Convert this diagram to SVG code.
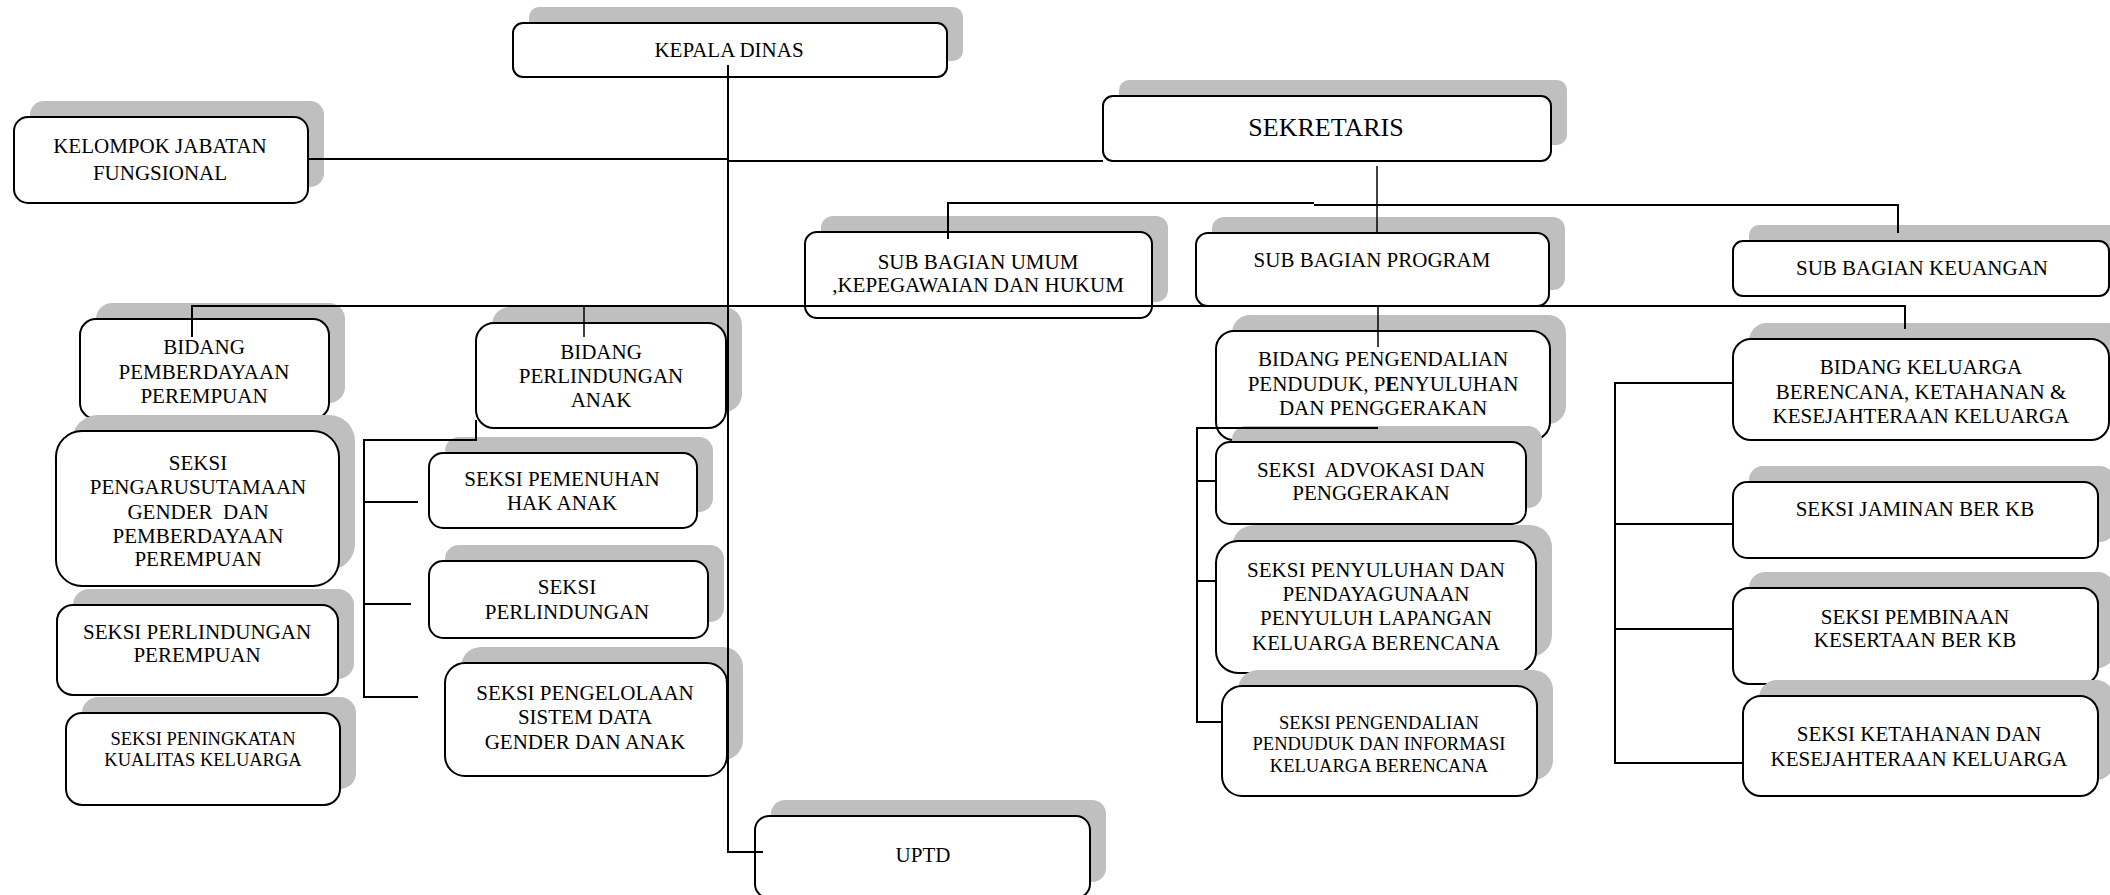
<svg xmlns="http://www.w3.org/2000/svg" width="2110" height="895" viewBox="0 0 2110 895">
<style>
.sh{fill:#bfbfbf}
.bx{fill:#fff;stroke:#000;stroke-width:2}
text{font-family:"Liberation Serif","Times New Roman",serif;font-size:21px;fill:#000;text-anchor:middle}
.sm{font-size:18.5px}
.lg{font-size:26px}
.cn{fill:none;stroke:#000;stroke-width:2}
.thin{stroke-width:1.5}
</style>
<rect width="2110" height="895" fill="#fff"/>
<g id="kepala-dinas"><rect class="sh" x="529" y="7" width="434" height="54" rx="10"/><rect class="bx" x="513" y="23" width="434" height="54" rx="10"/><text x="729" y="57">KEPALA DINAS</text></g>
<g id="kelompok-jabatan"><rect class="sh" x="30" y="101" width="294" height="86" rx="14"/><rect class="bx" x="14" y="117" width="294" height="86" rx="14"/><text x="160" y="153">KELOMPOK JABATAN</text><text x="160" y="180">FUNGSIONAL</text></g>
<g id="sekretaris"><rect class="sh" x="1119" y="80" width="448" height="65" rx="10"/><rect class="bx" x="1103" y="96" width="448" height="65" rx="10"/><text class="lg" x="1326" y="136">SEKRETARIS</text></g>
<g id="sub-umum"><rect class="sh" x="821" y="216" width="347" height="86" rx="12"/><rect class="bx" x="805" y="232" width="347" height="86" rx="12"/><text x="978" y="269">SUB BAGIAN UMUM</text><text x="978" y="292">,KEPEGAWAIAN DAN HUKUM</text></g>
<g id="sub-program"><rect class="sh" x="1212" y="217" width="353" height="73" rx="12"/><rect class="bx" x="1196" y="233" width="353" height="73" rx="12"/><text x="1372" y="267">SUB BAGIAN PROGRAM</text></g>
<g id="sub-keuangan"><rect class="sh" x="1749" y="225" width="376" height="55" rx="10"/><rect class="bx" x="1733" y="241" width="376" height="55" rx="10"/><text x="1922" y="275">SUB BAGIAN KEUANGAN</text></g>
<g id="bidang-pemberdayaan"><rect class="sh" x="96" y="303" width="249" height="100" rx="16"/><rect class="bx" x="80" y="319" width="249" height="100" rx="16"/><text x="204" y="354">BIDANG</text><text x="204" y="379">PEMBERDAYAAN</text><text x="204" y="403">PEREMPUAN</text></g>
<g id="seksi-pengarusutamaan"><rect class="sh" x="72" y="415" width="283" height="155" rx="26"/><rect class="bx" x="56" y="431" width="283" height="155" rx="26"/><text xml:space="preserve" x="198" y="470">SEKSI</text><text x="198" y="494">PENGARUSUTAMAAN</text><text xml:space="preserve" x="198" y="519">GENDER  DAN</text><text x="198" y="543">PEMBERDAYAAN</text><text x="198" y="566">PEREMPUAN</text></g>
<g id="seksi-perlindungan-perempuan"><rect class="sh" x="73" y="589" width="281" height="90" rx="16"/><rect class="bx" x="57" y="605" width="281" height="90" rx="16"/><text x="197" y="639">SEKSI PERLINDUNGAN</text><text x="197" y="662">PEREMPUAN</text></g>
<g id="seksi-peningkatan"><rect class="sh" x="82" y="697" width="274" height="92" rx="16"/><rect class="bx" x="66" y="713" width="274" height="92" rx="16"/><text class="sm" x="203" y="745">SEKSI PENINGKATAN</text><text class="sm" x="203" y="766">KUALITAS KELUARGA</text></g>
<g id="bidang-perlindungan-anak"><rect class="sh" x="492" y="307" width="250" height="105" rx="18"/><rect class="bx" x="476" y="323" width="250" height="105" rx="18"/><text x="601" y="359">BIDANG</text><text x="601" y="383">PERLINDUNGAN</text><text x="601" y="407">ANAK</text></g>
<g id="seksi-pemenuhan"><rect class="sh" x="445" y="437" width="268" height="75" rx="14"/><rect class="bx" x="429" y="453" width="268" height="75" rx="14"/><text x="562" y="486">SEKSI PEMENUHAN</text><text x="562" y="510">HAK ANAK</text></g>
<g id="seksi-perlindungan"><rect class="sh" x="445" y="545" width="279" height="77" rx="14"/><rect class="bx" x="429" y="561" width="279" height="77" rx="14"/><text x="567" y="594">SEKSI</text><text x="567" y="619">PERLINDUNGAN</text></g>
<g id="seksi-pengelolaan"><rect class="sh" x="461" y="647" width="282" height="113" rx="20"/><rect class="bx" x="445" y="663" width="282" height="113" rx="20"/><text x="585" y="700">SEKSI PENGELOLAAN</text><text x="585" y="724">SISTEM DATA</text><text x="585" y="749">GENDER DAN ANAK</text></g>
<g id="uptd"><rect class="sh" x="771" y="800" width="335" height="82" rx="14"/><rect class="bx" x="755" y="816" width="335" height="82" rx="14"/><text x="923" y="862">UPTD</text></g>
<g id="bidang-pengendalian"><rect class="sh" x="1232" y="315" width="334" height="109" rx="18"/><rect class="bx" x="1216" y="331" width="334" height="109" rx="18"/><text x="1383" y="366">BIDANG PENGENDALIAN</text><text x="1383" y="391">PENDUDUK, P<tspan font-weight="bold">E</tspan>NYULUHAN</text><text x="1383" y="415">DAN PENGGERAKAN</text></g>
<g id="seksi-advokasi"><rect class="sh" x="1232" y="426" width="310" height="82" rx="14"/><rect class="bx" x="1216" y="442" width="310" height="82" rx="14"/><text xml:space="preserve" x="1371" y="477">SEKSI  ADVOKASI DAN</text><text x="1371" y="500">PENGGERAKAN</text></g>
<g id="seksi-penyuluhan"><rect class="sh" x="1232" y="525" width="320" height="132" rx="22"/><rect class="bx" x="1216" y="541" width="320" height="132" rx="22"/><text x="1376" y="577">SEKSI PENYULUHAN DAN</text><text x="1376" y="601">PENDAYAGUNAAN</text><text x="1376" y="625">PENYULUH LAPANGAN</text><text x="1376" y="650">KELUARGA BERENCANA</text></g>
<g id="seksi-pengendalian-penduduk"><rect class="sh" x="1238" y="670" width="315" height="110" rx="20"/><rect class="bx" x="1222" y="686" width="315" height="110" rx="20"/><text class="sm" x="1379" y="729">SEKSI PENGENDALIAN</text><text class="sm" x="1379" y="750">PENDUDUK DAN INFORMASI</text><text class="sm" x="1379" y="772">KELUARGA BERENCANA</text></g>
<g id="bidang-keluarga"><rect class="sh" x="1749" y="323" width="376" height="101" rx="18"/><rect class="bx" x="1733" y="339" width="376" height="101" rx="18"/><text x="1921" y="374">BIDANG KELUARGA</text><text x="1921" y="399">BERENCANA, KETAHANAN &amp;</text><text x="1921" y="423">KESEJAHTERAAN KELUARGA</text></g>
<g id="seksi-jaminan"><rect class="sh" x="1749" y="466" width="365" height="76" rx="14"/><rect class="bx" x="1733" y="482" width="365" height="76" rx="14"/><text x="1915" y="516">SEKSI JAMINAN BER KB</text></g>
<g id="seksi-pembinaan"><rect class="sh" x="1749" y="572" width="365" height="96" rx="16"/><rect class="bx" x="1733" y="588" width="365" height="96" rx="16"/><text x="1915" y="624">SEKSI PEMBINAAN</text><text x="1915" y="647">KESERTAAN BER KB</text></g>
<g id="seksi-ketahanan"><rect class="sh" x="1759" y="680" width="355" height="100" rx="18"/><rect class="bx" x="1743" y="696" width="355" height="100" rx="18"/><text x="1919" y="741">SEKSI KETAHANAN DAN</text><text x="1919" y="766">KESEJAHTERAAN KELUARGA</text></g>
<g id="connectors">
<path class="cn" d="M728 65V852H763"/>
<path class="cn" d="M308 159H727"/>
<path class="cn" d="M728 161H1103"/>
<path class="cn thin" d="M1377 166V232"/>
<path class="cn" d="M948 239V203H1314"/>
<path class="cn" d="M1314 205H1898V233"/>
<path class="cn" d="M192 337V306H1905V329"/>
<path class="cn thin" d="M584 306V337"/>
<path class="cn thin" d="M1378 306V347"/>
<path class="cn" d="M476 420V440H364V697H418"/>
<path class="cn" d="M364 502H418M364 604H411"/>
<path class="cn" d="M1378 428H1197V722H1222"/>
<path class="cn" d="M1197 481H1216M1197 581H1216"/>
<path class="cn" d="M1733 383H1615V763H1743"/>
<path class="cn" d="M1615 524H1733M1615 629H1733"/>
</g>
</svg>
